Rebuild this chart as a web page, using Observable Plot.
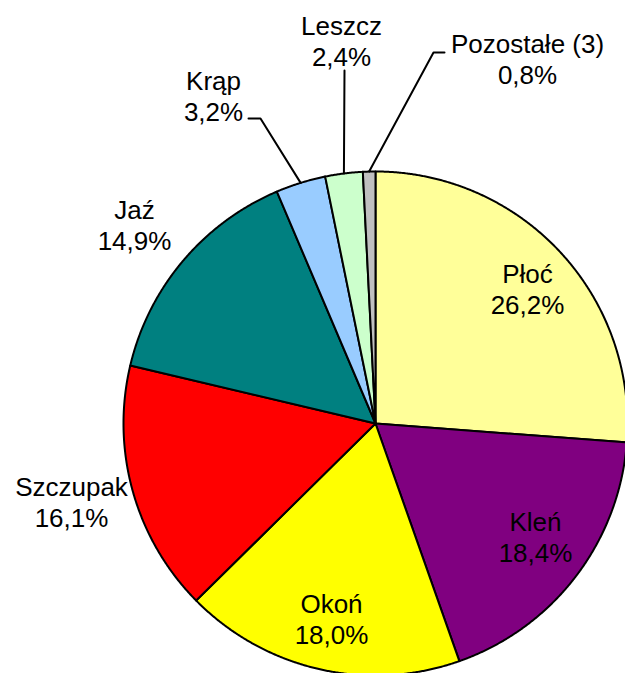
<!DOCTYPE html>
<html>
<head>
<meta charset="utf-8">
<script src="https://cdn.jsdelivr.net/npm/d3@7"></script>
<script src="https://cdn.jsdelivr.net/npm/@observablehq/plot@0.6"></script>
<style>
  html, body { margin: 0; padding: 0; background: #fff; }
  #chart svg { display: block; }
</style>
</head>
<body>
<div id="chart"></div>
<script>
// ---- data ----
const names = ["Płoć", "Kleń", "Okoń", "Szczupak", "Jaź", "Krąp", "Leszcz", "Pozostałe (3)"];
const shares = [26.2, 18.4, 18.0, 16.1, 14.9, 3.2, 2.4, 0.8];
const colors = ["#FFFF99", "#800080", "#FFFF00", "#FF0000", "#008080", "#99CCFF", "#CCFFCC", "#C0C0C0"];

// ---- layout (label placement, separate from data) ----
const labelX = [527, 535, 331, 71, 134, 213, 341, 527];
const labelY = [288, 536, 618, 501, 224, 95, 40, 58];
// leader-line anchor points near labels (null = label inside slice)
const leaderStart = [null, null, null, null, null, [[248, 118], [260, 118]], [[344, 70]], [[444, 52], [433, 52]]];

const W = 625, H = 673;
const cx = 375, cy = 423, R = 252;

const total = d3.sum(shares);
const fmt = v => v.toFixed(1).replace(".", ",") + "%";

// slice polygons computed from shares
const slicePts = [];
const mids = [];
let acc = 0;
shares.forEach((v, i) => {
  const a0 = acc / total * 2 * Math.PI;
  acc += v;
  const a1 = acc / total * 2 * Math.PI;
  mids.push((a0 + a1) / 2);
  slicePts.push({name: names[i], x: cx, y: cy});
  const n = Math.max(2, Math.ceil((a1 - a0) / (Math.PI / 720)));
  for (let k = 0; k <= n; k++) {
    const a = a0 + (a1 - a0) * k / n;
    slicePts.push({name: names[i], x: cx + R * Math.sin(a), y: cy - R * Math.cos(a)});
  }
  slicePts.push({name: names[i], x: cx, y: cy});
});

const labels = names.map((n, i) => ({text: n + "\n" + fmt(shares[i]), x: labelX[i], y: labelY[i]}));

const leaders = [];
names.forEach((n, i) => {
  if (!leaderStart[i]) return;
  leaderStart[i].forEach(p => leaders.push({name: n, x: p[0], y: p[1]}));
  leaders.push({name: n, x: cx + R * Math.sin(mids[i]), y: cy - R * Math.cos(mids[i])});
});

const chart = Plot.plot({
  width: W,
  height: H,
  margin: 0,
  x: {domain: [0, W], range: [0, W], axis: null},
  y: {domain: [0, H], range: [0, H], axis: null},
  color: {domain: names, range: colors},
  style: {background: "#fff", fontFamily: "'Liberation Sans', Arial, sans-serif"},
  marks: [
    Plot.line(slicePts, {x: "x", y: "y", z: "name", fill: "name", stroke: "#000", strokeWidth: 2, strokeLinejoin: "round"}),
    Plot.line(leaders, {x: "x", y: "y", z: "name", stroke: "#000", strokeWidth: 2}),
    Plot.text(labels, {x: "x", y: "y", text: "text", fontSize: 26, lineHeight: 1.19, fill: "#000",
      fontFamily: "'Liberation Sans', Arial, sans-serif"})
  ]
});
document.getElementById("chart").appendChild(chart);
</script>
</body>
</html>
